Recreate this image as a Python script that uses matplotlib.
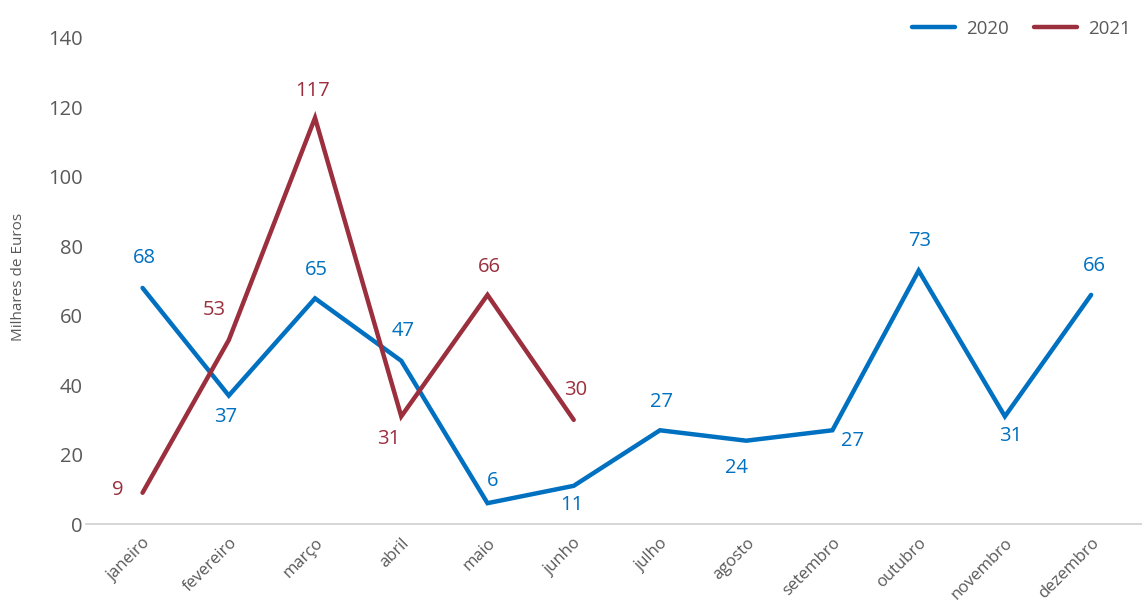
import matplotlib
matplotlib.use("Agg")
import matplotlib.pyplot as plt
from matplotlib.lines import Line2D

months = ["janeiro", "fevereiro", "março", "abril", "maio", "junho", "julho",
          "agosto", "setembro", "outubro", "novembro", "dezembro"]
v2020 = [68, 37, 65, 47, 6, 11, 27, 24, 27, 73, 31, 66]
v2021 = [9, 53, 117, 31, 66, 30]
yticks = [0, 20, 40, 60, 80, 100, 120, 140]

# label offsets in pixels
off2020 = [(2, 30), (-3, -21), (1, 28), (2, 30), (5, 22), (-2, -19), (2, 28),
           (-10, -27), (20, -11), (1, 30), (6, -20), (3, 29)]
off2021 = [(-25, 3), (-14, 30), (-2, 27), (-13, -23), (2, 28), (2, 30)]

blue = "#0070C0"
red = "#9B2F3E"
gray = "#595959"

plt.rcParams['font.family'] = ['Open Sans', 'DejaVu Sans']

fig = plt.figure(figsize=(11.42, 6.03), dpi=100)
ax = fig.add_axes([0.075, 0.131, 0.925, 0.806])

x20 = list(range(len(v2020)))
x21 = list(range(len(v2021)))
ax.plot(x20, v2020, color=blue, lw=3.2, solid_capstyle='round', solid_joinstyle='miter')
ax.plot(x21, v2021, color=red, lw=3.2, solid_capstyle='round', solid_joinstyle='miter')

for x, v, o in zip(x20, v2020, off2020):
    ax.annotate(str(v), (x, v), xytext=o, textcoords='offset pixels',
                ha='center', va='center', color=blue, fontsize=14.5)
for x, v, o in zip(x21, v2021, off2021):
    ax.annotate(str(v), (x, v), xytext=o, textcoords='offset pixels',
                ha='center', va='center', color=red, fontsize=14.5)

ax.set_xlim(-0.66, 11.59)
ax.set_ylim(0, 140)
ax.set_yticks(yticks)
ax.set_yticklabels([str(t) for t in yticks], fontsize=14.5, color=gray)
ax.set_xticks(x20)
ax.set_xticklabels(months, rotation=45, ha='right', rotation_mode='anchor',
                   fontsize=12, color=gray)
ax.tick_params(axis='both', length=0)
ax.tick_params(axis='y', pad=2)
ax.tick_params(axis='x', pad=8)
for s in ['top', 'right', 'left']:
    ax.spines[s].set_visible(False)
ax.spines['bottom'].set_color('#D0D0D0')
ax.spines['bottom'].set_linewidth(1.2)

fig.text(0.016, 0.54, "Milhares de Euros", rotation=90, ha='center', va='center',
         fontsize=11, color=gray)

handles = [Line2D([0], [0], color=blue, lw=3.2, solid_capstyle='round'),
           Line2D([0], [0], color=red, lw=3.2, solid_capstyle='round')]
leg = fig.legend(handles, ["2020", "2021"], loc='upper right',
                 bbox_to_anchor=(1.005, 0.995), ncol=2, frameon=False,
                 fontsize=13.5, handlelength=2.3, columnspacing=1.3, handletextpad=0.6)
for t in leg.get_texts():
    t.set_color(gray)

fig.savefig("out.png", dpi=100)
